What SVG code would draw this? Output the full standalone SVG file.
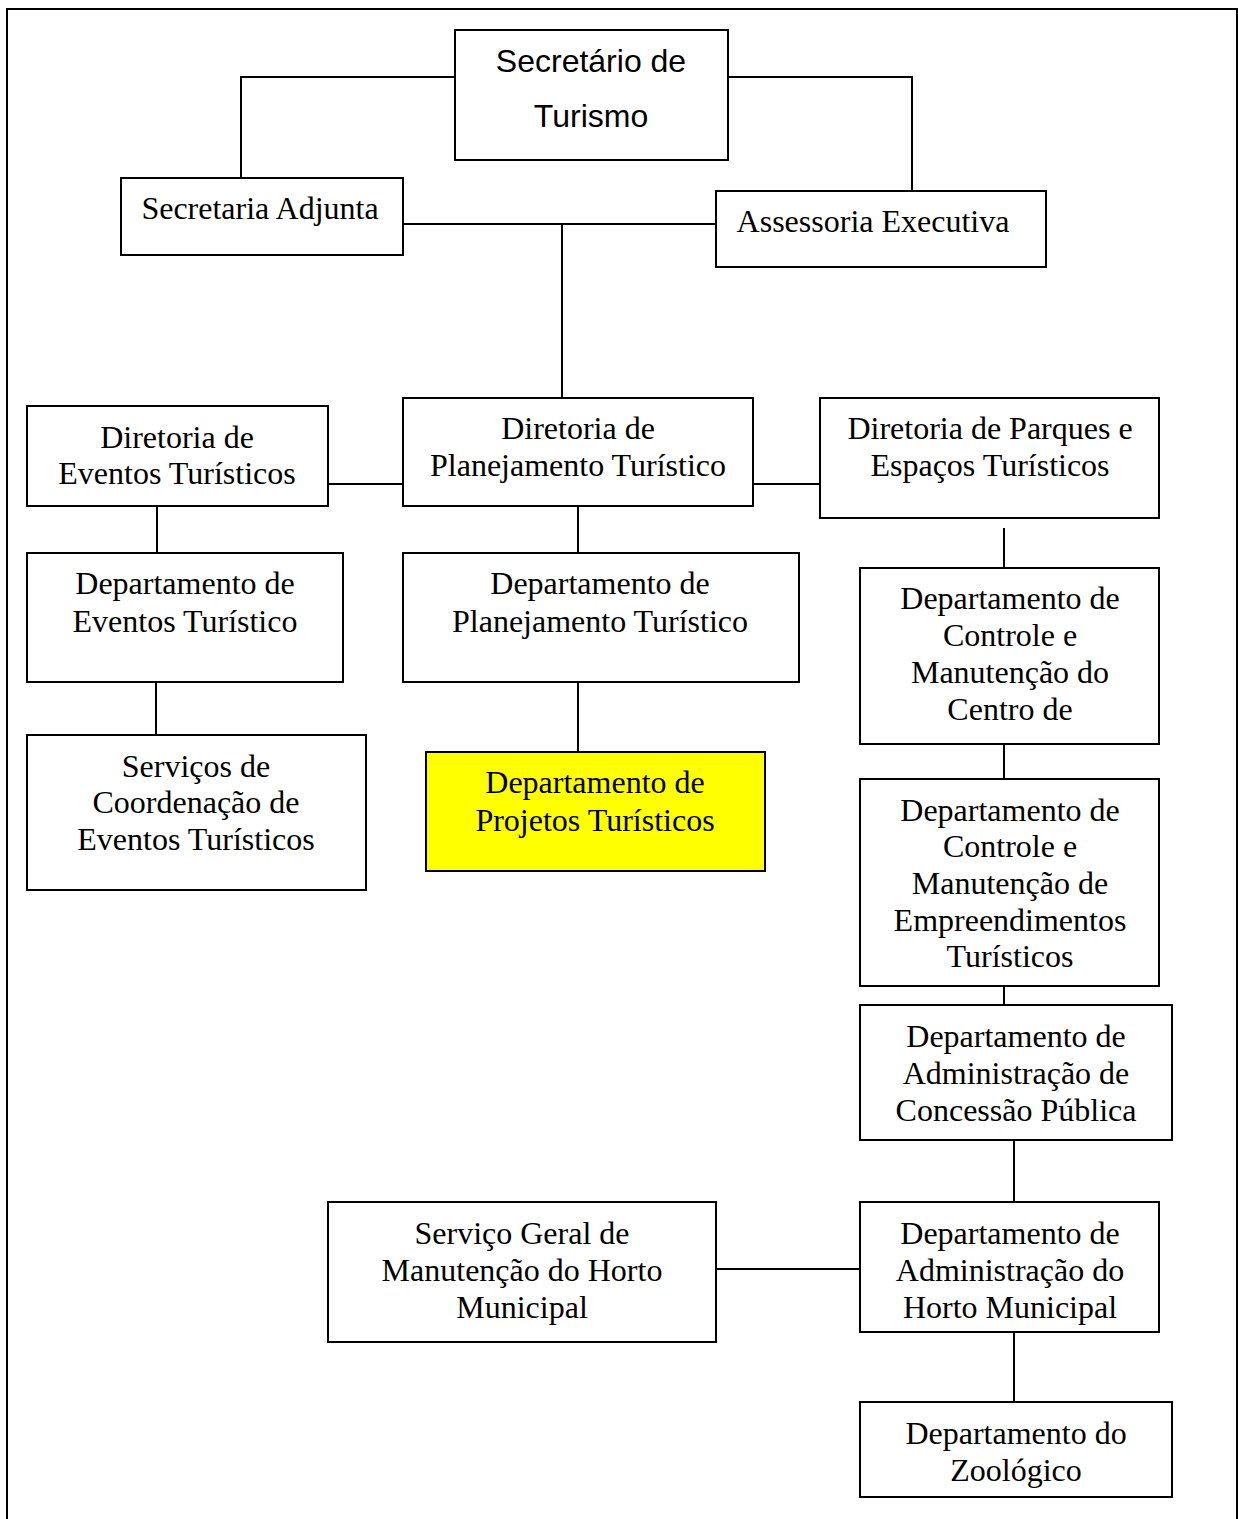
<svg xmlns="http://www.w3.org/2000/svg" width="1238" height="1519" viewBox="0 0 1238 1519">
<style>
rect.box{fill:#fff;stroke:#000;stroke-width:2}
rect.hl{fill:#ffff00;stroke:#000;stroke-width:2}
text{font-family:"Liberation Serif","Times New Roman",serif;font-size:32px;fill:#000;text-anchor:middle}
text.sans{font-family:"Liberation Sans",Arial,sans-serif;font-size:32px}
#connectors path{fill:none;stroke:#000;stroke-width:2}
</style>
<rect x="0" y="0" width="1238" height="1519" fill="#fff"/>
<path d="M7 1519 V9 H1237 V1519" fill="none" stroke="#000" stroke-width="2"/>
<g id="connectors">
<path d="M455 77 H241 V178"/>
<path d="M728 77 H912 V191"/>
<path d="M403 224 H716"/>
<path d="M562 224 V398"/>
<path d="M328 484 H403"/>
<path d="M753 484 H820"/>
<path d="M157 506 V553"/>
<path d="M578 506 V553"/>
<path d="M156 682 V735"/>
<path d="M578 682 V752"/>
<path d="M1004 528 V568"/>
<path d="M1004 744 V779"/>
<path d="M1004 986 V1005"/>
<path d="M1014 1140 V1202"/>
<path d="M716 1269 H860"/>
<path d="M1014 1332 V1402"/>
</g>
<g id="n-secretario"><rect class="box" x="455" y="30" width="273" height="130"/><text class="sans" x="591" y="72">Secretário de</text><text class="sans" x="591" y="127">Turismo</text></g>
<g id="n-adjunta"><rect class="box" x="121" y="178" width="282" height="77"/><text x="260" y="219">Secretaria Adjunta</text></g>
<g id="n-assessoria"><rect class="box" x="716" y="191" width="330" height="76"/><text x="873" y="232">Assessoria Executiva</text></g>
<g id="n-dir-eventos"><rect class="box" x="27" y="406" width="301" height="100"/><text x="177" y="448">Diretoria de</text><text x="177" y="484">Eventos Turísticos</text></g>
<g id="n-dir-planejamento"><rect class="box" x="403" y="398" width="350" height="108"/><text x="578" y="439">Diretoria de</text><text x="578" y="476">Planejamento Turístico</text></g>
<g id="n-dir-parques"><rect class="box" x="820" y="398" width="339" height="120"/><text x="990" y="439">Diretoria de Parques e</text><text x="990" y="476">Espaços Turísticos</text></g>
<g id="n-dep-eventos"><rect class="box" x="27" y="553" width="316" height="129"/><text x="185" y="594">Departamento de</text><text x="185" y="632">Eventos Turístico</text></g>
<g id="n-dep-planejamento"><rect class="box" x="403" y="553" width="396" height="129"/><text x="600" y="594">Departamento de</text><text x="600" y="632">Planejamento Turístico</text></g>
<g id="n-serv-coord"><rect class="box" x="27" y="735" width="339" height="155"/><text x="196" y="777">Serviços de</text><text x="196" y="813">Coordenação de</text><text x="196" y="850">Eventos Turísticos</text></g>
<g id="n-dep-projetos"><rect class="hl" x="426" y="752" width="339" height="119"/><text x="595" y="793">Departamento de</text><text x="595" y="831">Projetos Turísticos</text></g>
<g id="n-dep-centro"><rect class="box" x="860" y="568" width="299" height="176"/><text x="1010" y="609">Departamento de</text><text x="1010" y="646">Controle e</text><text x="1010" y="683">Manutenção do</text><text x="1010" y="720">Centro de</text></g>
<g id="n-dep-empreend"><rect class="box" x="860" y="779" width="299" height="207"/><text x="1010" y="821">Departamento de</text><text x="1010" y="857">Controle e</text><text x="1010" y="894">Manutenção de</text><text x="1010" y="931">Empreendimentos</text><text x="1010" y="967">Turísticos</text></g>
<g id="n-dep-concessao"><rect class="box" x="860" y="1005" width="312" height="135"/><text x="1016" y="1047">Departamento de</text><text x="1016" y="1084">Administração de</text><text x="1016" y="1121">Concessão Pública</text></g>
<g id="n-serv-horto"><rect class="box" x="328" y="1202" width="388" height="140"/><text x="522" y="1244">Serviço Geral de</text><text x="522" y="1281">Manutenção do Horto</text><text x="522" y="1318">Municipal</text></g>
<g id="n-dep-horto"><rect class="box" x="860" y="1202" width="299" height="130"/><text x="1010" y="1244">Departamento de</text><text x="1010" y="1281">Administração do</text><text x="1010" y="1318">Horto Municipal</text></g>
<g id="n-dep-zoo"><rect class="box" x="860" y="1402" width="312" height="95"/><text x="1016" y="1444">Departamento do</text><text x="1016" y="1481">Zoológico</text></g>
</svg>
